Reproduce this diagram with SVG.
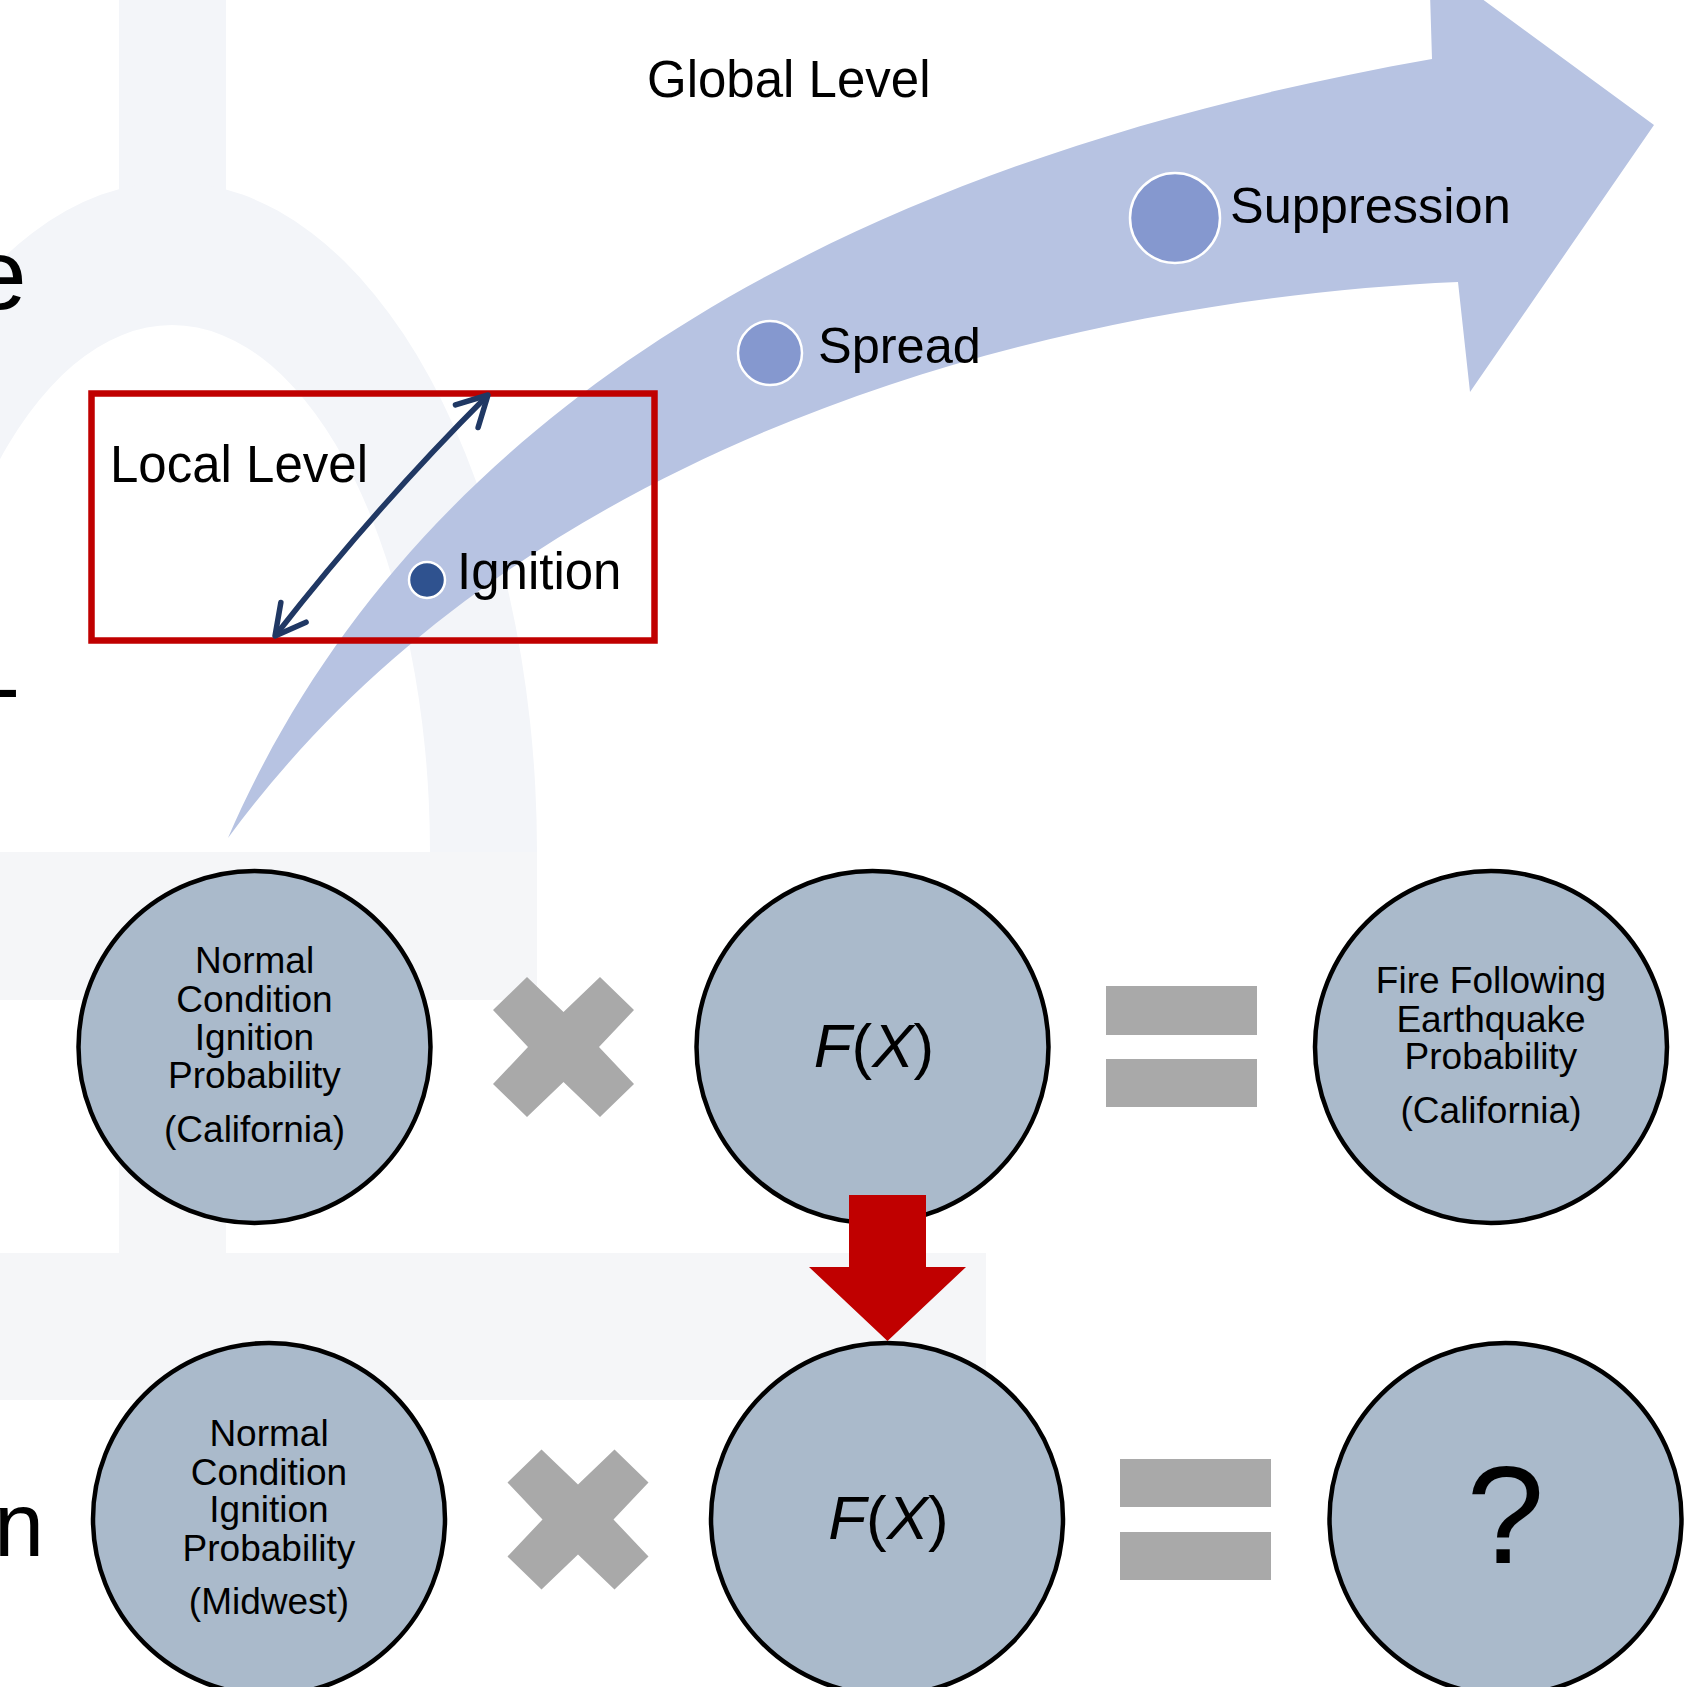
<svg xmlns="http://www.w3.org/2000/svg" width="1687" height="1687" viewBox="0 0 1687 1687">
  <style>
    text { font-family: "Liberation Sans", Arial, sans-serif; fill: #000; }
    .lbl { font-size: 51px; }
    .big { font-size: 100px; }
    .node { fill: #aabacb; stroke: #000; stroke-width: 4.5; }
    .ntxt { font-size: 37px; text-anchor: middle; }
    .fx { font-size: 62px; text-anchor: middle; }
    .op { fill: #a9a9a9; }
    .wm1 { fill: #f3f5f9; }
    .wm2 { fill: #f5f6f8; }
    .stage { fill: #8598cf; stroke: #fff; stroke-width: 2.5; }
  </style>
  <defs>
    <marker id="chev" markerUnits="userSpaceOnUse" markerWidth="44" markerHeight="44" viewBox="-36 -22 44 44" refX="0" refY="0" orient="auto-start-reverse">
      <path d="M -30,-16 L 0,0 L -30,16" fill="none" stroke="#203864" stroke-width="5.5" stroke-linecap="round" stroke-linejoin="round"/>
    </marker>
    <polygon id="times" points="0,-35 36.5,-70 70.5,-37 35.5,0 70.5,37 36.5,70 0,35 -36.5,70 -70.5,37 -35.5,0 -70.5,-37 -36.5,-70"/>
  </defs>

  <rect width="1687" height="1687" fill="#fff"/>

  <!-- faint watermark background -->
  <g id="watermark">
    <rect class="wm1" x="119" y="0" width="107" height="200"/>
    <path class="wm1" fill-rule="evenodd" d="M -193,852 A 365 670 0 0 1 537,852 L 430,852 A 258 527 0 0 0 -86,852 Z"/>
    <rect class="wm1" x="430" y="850" width="107" height="150"/>
    <rect class="wm2" x="0" y="852" width="537" height="148"/>
    <rect class="wm2" x="119" y="1000" width="107" height="253"/>
    <rect class="wm2" x="0" y="1253" width="986" height="147"/>
  </g>

  <!-- cut-off text at left edge -->
  <g id="edge-text">
    <text class="big" x="-29" y="309">e</text>
    <text x="-10" y="718" font-size="90">-</text>
    <text x="-6" y="1556" font-size="90">n</text>
  </g>

  <!-- big curved process arrow -->
  <g id="process-arrow">
    <path d="M 228,838 C 400,440 800,170 1432,59 L 1429,-40 L 1654,125 L 1470,392 L 1458,282 C 1050,300 520,440 228,838 Z" fill="#b7c3e2"/>
    <text class="lbl" x="647" y="97">Global Level</text>
  </g>

  <g id="stage-suppression">
    <circle class="stage" cx="1175" cy="218" r="45"/>
    <text x="1230" y="223" font-size="50.5">Suppression</text>
  </g>
  <g id="stage-spread">
    <circle class="stage" cx="770" cy="353" r="32"/>
    <text x="818" y="363" font-size="50.5">Spread</text>
  </g>

  <g id="local-level">
    <rect x="91.5" y="393.5" width="563" height="247" fill="none" stroke="#c00000" stroke-width="6.5"/>
    <text class="lbl" x="110" y="482">Local Level</text>
  </g>
  <g id="stage-ignition">
    <circle cx="427" cy="580" r="18" fill="#2f528f" stroke="#fff" stroke-width="2.5"/>
    <text class="lbl" x="457" y="589">Ignition</text>
  </g>

  <!-- formula nodes -->
  <g id="node-normal-ca">
    <circle class="node" cx="254.5" cy="1047" r="176"/>
    <text class="ntxt" x="254.5" y="973">Normal</text>
    <text class="ntxt" x="254.5" y="1012">Condition</text>
    <text class="ntxt" x="254.5" y="1050">Ignition</text>
    <text class="ntxt" x="254.5" y="1088">Probability</text>
    <text class="ntxt" x="254.5" y="1142">(California)</text>
  </g>
  <g id="op-times-1"><use href="#times" class="op" x="563.5" y="1047"/></g>
  <g id="node-fx-1">
    <circle class="node" cx="872.5" cy="1047" r="176"/>
    <text class="fx" x="874" y="1067"><tspan font-style="italic">F</tspan>(<tspan font-style="italic">X</tspan>)</text>
  </g>
  <g id="op-equals-1">
    <rect class="op" x="1106" y="986" width="151" height="49"/>
    <rect class="op" x="1106" y="1059" width="151" height="48"/>
  </g>
  <g id="node-ffe-ca">
    <circle class="node" cx="1491" cy="1047" r="176"/>
    <text class="ntxt" x="1491" y="993">Fire Following</text>
    <text class="ntxt" x="1491" y="1032">Earthquake</text>
    <text class="ntxt" x="1491" y="1069">Probability</text>
    <text class="ntxt" x="1491" y="1123">(California)</text>
  </g>

  <g id="node-normal-mw">
    <circle class="node" cx="269" cy="1519" r="176"/>
    <text class="ntxt" x="269" y="1446">Normal</text>
    <text class="ntxt" x="269" y="1485">Condition</text>
    <text class="ntxt" x="269" y="1522">Ignition</text>
    <text class="ntxt" x="269" y="1561">Probability</text>
    <text class="ntxt" x="269" y="1614">(Midwest)</text>
  </g>
  <g id="op-times-2"><use href="#times" class="op" x="578" y="1519.5"/></g>
  <g id="node-fx-2">
    <circle class="node" cx="887" cy="1519" r="176"/>
    <text class="fx" x="888.5" y="1539"><tspan font-style="italic">F</tspan>(<tspan font-style="italic">X</tspan>)</text>
  </g>
  <g id="op-equals-2">
    <rect class="op" x="1120" y="1459" width="151" height="48"/>
    <rect class="op" x="1120" y="1532" width="151" height="48"/>
  </g>
  <g id="node-unknown">
    <circle class="node" cx="1505.5" cy="1519" r="176"/>
    <text x="1505.5" y="1563" font-size="140" text-anchor="middle">?</text>
  </g>

  <!-- connectors -->
  <g id="connectors">
    <path d="M 275,636 Q 375,508 488,395" fill="none" stroke="#203864" stroke-width="5.5" marker-start="url(#chev)" marker-end="url(#chev)"/>
    <polygon points="849,1195 926,1195 926,1267 966,1267 887.5,1341 809,1267 849,1267" fill="#c00000"/>
  </g>
</svg>
